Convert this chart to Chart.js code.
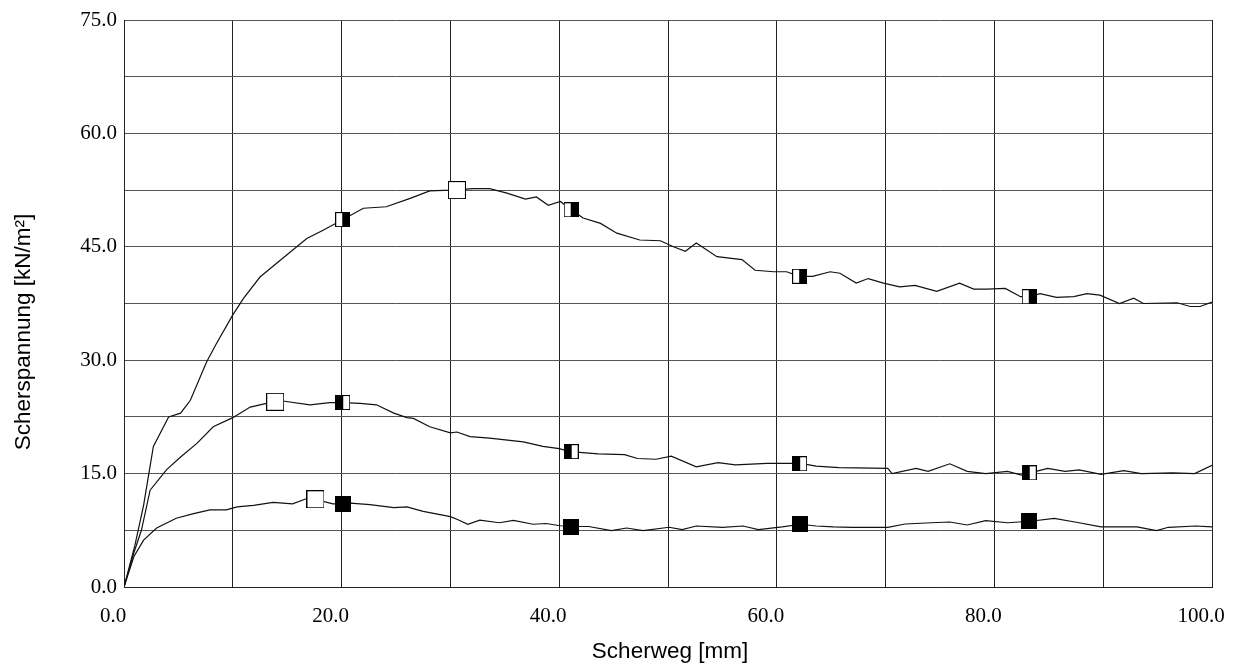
<!DOCTYPE html>
<html>
<head>
<meta charset="utf-8">
<script src="https://cdn.jsdelivr.net/npm/chart.js"></script>
<style>
  html, body { margin: 0; padding: 0; background: #fff; }
  #wrap { width: 1235px; height: 670px; position: relative; }
</style>
</head>
<body>
<div id="wrap"><canvas id="shear-chart" width="1235" height="670"></canvas></div>
<script>
// Scherweg [mm] / Scherspannung [kN/m²]
const topX = [0, 1.0, 1.8, 2.7, 4.1, 5.2, 6.1, 7.6, 8.5, 10.0, 11.0, 12.5, 14.0, 16.8, 18.3, 20.0, 22.0, 24.1, 26.3, 28.1,
  30.0, 32.1, 33.6, 35.2, 36.9, 37.9, 39.0, 40.1, 41.1, 42.2, 43.8, 45.3, 47.4, 49.3, 50.5, 51.6, 52.6, 54.5, 56.8, 58.0,
  59.7, 60.9, 62.1, 63.3, 64.9, 65.8, 67.3, 68.4, 69.8, 71.3, 72.7, 74.7, 76.8, 78.1, 79.3, 81.0, 82.4, 83.3, 84.2, 85.7,
  87.3, 88.5, 89.7, 91.5, 92.8, 93.7, 96.8, 98.0, 98.9, 100];
const topY = [0, 5.5, 10.8, 18.6, 22.5, 23.0, 24.7, 29.8, 32.2, 36.0, 38.2, 41.0, 42.8, 46.1, 47.2, 48.5, 50.1, 50.3, 51.4, 52.4,
  52.5, 52.7, 52.7, 52.1, 51.3, 51.6, 50.5, 51.0, 49.9, 48.8, 48.1, 46.8, 45.9, 45.8, 45.0, 44.4, 45.5, 43.7, 43.3, 41.9,
  41.7, 41.7, 41.1, 41.1, 41.7, 41.5, 40.2, 40.8, 40.2, 39.7, 39.9, 39.1, 40.2, 39.4, 39.4, 39.5, 38.4, 38.4, 38.8, 38.3,
  38.4, 38.8, 38.6, 37.5, 38.2, 37.5, 37.6, 37.1, 37.1, 37.7];

const midX = [0, 0.9, 1.6, 2.4, 3.9, 5.2, 6.7, 8.2, 10.0, 11.6, 13.1, 14.6, 17.1, 18.9, 20.0, 21.7, 23.2, 24.8, 26.0, 26.6,
  28.1, 30.0, 30.6, 31.8, 33.6, 36.7, 38.5, 40.0, 41.0, 43.6, 46.0, 47.2, 48.9, 50.3, 52.6, 54.6, 56.2, 59.1, 60.5, 62.2,
  63.6, 65.7, 70.2, 70.6, 72.8, 73.9, 75.9, 77.5, 79.2, 81.2, 82.5, 83.3, 84.9, 86.5, 87.8, 89.8, 91.9, 93.5, 96.4, 98.4, 100];
const midY = [0, 4.5, 7.5, 12.8, 15.5, 17.2, 19.0, 21.2, 22.4, 23.8, 24.3, 24.6, 24.1, 24.4, 24.4, 24.3, 24.1, 23.0, 22.4, 22.3,
  21.2, 20.4, 20.5, 19.9, 19.7, 19.2, 18.6, 18.3, 17.9, 17.6, 17.5, 17.0, 16.9, 17.3, 15.9, 16.45, 16.15, 16.35, 16.35, 16.35,
  16.0, 15.8, 15.7, 15.0, 15.7, 15.3, 16.3, 15.3, 15.0, 15.3, 14.8, 15.1, 15.7, 15.3, 15.5, 14.9, 15.4, 15.0, 15.1, 15.0, 16.1];

const botX = [0, 0.9, 1.8, 3.0, 4.8, 6.4, 7.9, 9.4, 10.4, 11.9, 13.7, 15.5, 16.8, 17.6, 19.2, 20.1, 20.8, 22.6, 24.8, 26.0,
  27.5, 30.0, 30.7, 31.6, 32.7, 34.5, 35.8, 37.6, 38.8, 40.1, 41.2, 42.7, 44.8, 46.2, 47.7, 50.1, 51.3, 52.6, 55.0, 56.9,
  58.3, 60.5, 62.2, 63.6, 65.2, 66.9, 70.2, 71.8, 74.2, 75.9, 77.5, 79.2, 81.2, 83.3, 85.5, 87.4, 89.8, 93.1, 94.9, 96.0, 98.5, 100];
const botY = [0, 4.0, 6.2, 7.8, 9.1, 9.7, 10.2, 10.2, 10.6, 10.8, 11.2, 11.0, 11.7, 11.6, 11.0, 11.0, 11.1, 10.9, 10.5, 10.6,
  10.0, 9.3, 8.9, 8.3, 8.85, 8.5, 8.8, 8.3, 8.4, 8.1, 8.0, 8.0, 7.45, 7.8, 7.45, 7.9, 7.6, 8.07, 7.9, 8.07,
  7.6, 7.95, 8.3, 8.07, 7.95, 7.9, 7.9, 8.33, 8.5, 8.6, 8.2, 8.77, 8.5, 8.7, 9.08, 8.6, 7.95, 7.95, 7.45, 7.9, 8.07, 7.95];

// marker symbols along the curves
const markerX = [20.1, 41.1, 62.1, 83.2];
const topMarkY = [48.6, 49.9, 41.1, 38.4];
const midMarkY = [24.4, 17.9, 16.3, 15.1];
const botMarkY = [11.0, 8.0, 8.3, 8.7];

// peak markers (open squares)
const peakX = [30.6, 13.9, 17.6];
const peakY = [52.5, 24.5, 11.6];

const xTicks = [0, 20, 40, 60, 80, 100];
const yTicks = [0, 15, 30, 45, 60, 75];

function toPoints(xs, ys) {
  return xs.map((x, i) => ({ x: x, y: ys[i] }));
}

// square marker as canvas: fill = 'none' | 'left' | 'right' | 'full'
function makeMarker(size, fill) {
  const c = document.createElement('canvas');
  c.width = size; c.height = size;
  const g = c.getContext('2d');
  g.fillStyle = '#fff';
  g.fillRect(0, 0, size, size);
  g.fillStyle = '#000';
  if (fill === 'full') g.fillRect(0, 0, size, size);
  if (fill === 'left') g.fillRect(0, 0, Math.ceil(size / 2), size);
  if (fill === 'right') g.fillRect(Math.floor(size / 2), 0, Math.ceil(size / 2), size);
  g.strokeStyle = '#000';
  g.lineWidth = 1;
  g.strokeRect(0.5, 0.5, size - 1, size - 1);
  return c;
}

const lineStyle = {
  borderColor: '#111',
  borderWidth: 1.2,
  pointRadius: 0,
  tension: 0,
  fill: false,
  order: 2
};

function markerSet(xs, ys, img) {
  return {
    data: toPoints(xs, ys),
    showLine: false,
    pointStyle: img,
    pointRadius: 8,
    order: 0
  };
}

const axisTitles = {
  id: 'axisTitles',
  afterDraw(chart) {
    const ctx = chart.ctx;
    ctx.save();
    ctx.fillStyle = '#000';
    ctx.font = '22.5px "Liberation Sans", Arial, sans-serif';
    ctx.textAlign = 'center';
    ctx.textBaseline = 'middle';
    ctx.fillText('Scherweg [mm]', 670, 652);
    ctx.translate(24, 332);
    ctx.rotate(-Math.PI / 2);
    ctx.fillText('Scherspannung [kN/m\u00B2]', 0, 0);
    ctx.restore();
  }
};

const tickFont = { family: '"Liberation Serif", "Times New Roman", serif', size: 21 };

new Chart(document.getElementById('shear-chart'), {
  type: 'line',
  data: {
    datasets: [
      markerSet([peakX[0]], [peakY[0]], makeMarker(18, 'none')),
      markerSet([peakX[1]], [peakY[1]], makeMarker(18, 'none')),
      markerSet([peakX[2]], [peakY[2]], makeMarker(18, 'none')),
      markerSet(markerX, topMarkY, makeMarker(15, 'right')),
      markerSet(markerX, midMarkY, makeMarker(15, 'left')),
      markerSet(markerX, botMarkY, makeMarker(16, 'full')),
      Object.assign({ data: toPoints(topX, topY) }, lineStyle),
      Object.assign({ data: toPoints(midX, midY) }, lineStyle),
      Object.assign({ data: toPoints(botX, botY) }, lineStyle)
    ]
  },
  options: {
    responsive: false,
    animation: false,
    events: [],
    layout: { padding: { left: 0, right: 23, top: 20, bottom: 0 } },
    plugins: {
      legend: { display: false },
      tooltip: { enabled: false }
    },
    scales: {
      x: {
        type: 'linear',
        min: 0,
        max: 100,
        afterFit: (s) => { s.height = 83; s.paddingLeft = 0; s.paddingRight = 0; },
        grid: { color: '#222', lineWidth: 1, drawTicks: false },
        border: { color: '#222' },
        ticks: {
          stepSize: 10,
          autoSkip: false,
          maxRotation: 0,
          padding: 17,
          labelOffset: -11,
          color: '#000',
          font: tickFont,
          callback: (v) => xTicks.includes(v) ? v.toFixed(1) : ''
        }
      },
      y: {
        min: 0,
        max: 75,
        afterFit: (s) => { s.width = 124; s.paddingTop = 0; s.paddingBottom = 0; },
        grid: { color: '#555', lineWidth: 1, drawTicks: false },
        border: { color: '#222' },
        ticks: {
          stepSize: 7.5,
          autoSkip: false,
          padding: 7,
          color: '#000',
          font: tickFont,
          callback: (v) => yTicks.some(t => Math.abs(t - v) < 1e-6) ? v.toFixed(1) : ''
        }
      }
    }
  },
  plugins: [axisTitles]
});
</script>
</body>
</html>
